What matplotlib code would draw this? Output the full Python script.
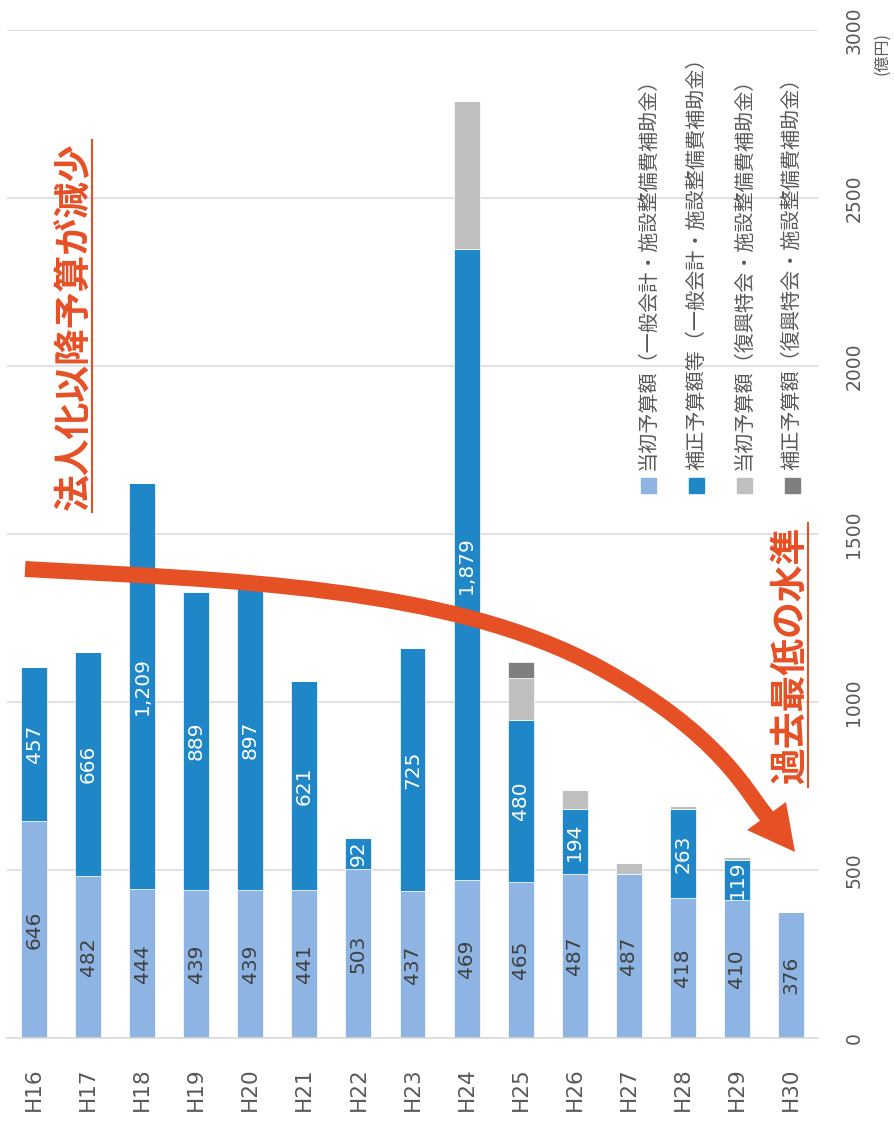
"""Stacked budget bars H16-H30, drawn sideways (all text rotated 90 degrees)."""
import matplotlib
matplotlib.use("Agg")
import matplotlib.pyplot as plt
from matplotlib.path import Path
from matplotlib.patches import PathPatch, Polygon

JP = ["Noto Sans CJK JP", "DejaVu Sans"]

years = ["H16", "H17", "H18", "H19", "H20", "H21", "H22", "H23",
         "H24", "H25", "H26", "H27", "H28", "H29", "H30"]
# 億円
initial_general = [646, 482, 444, 439, 439, 441, 503, 437, 469, 465, 487, 487, 418, 410, 376]
supp_general = [457, 666, 1209, 889, 897, 621, 92, 725, 1879, 480, 194, 0, 263, 119, 0]
initial_recovery = [0, 0, 0, 0, 0, 0, 0, 0, 440, 125, 58, 34, 8, 10, 0]
supp_recovery = [0, 0, 0, 0, 0, 0, 0, 0, 0, 48, 0, 0, 0, 0, 0]

series = [
    ("当初予算額（一般会計・施設整備費補助金）", initial_general, "#8EB4E3"),
    ("補正予算額等（一般会計・施設整備費補助金）", supp_general, "#1F86C8"),
    ("当初予算額（復興特会・施設整備費補助金）", initial_recovery, "#BFBFBF"),
    ("補正予算額（復興特会・施設整備費補助金）", supp_recovery, "#7F7F7F"),
]
ORANGE = "#E65025"
GRAY_TXT = "#595959"

fig = plt.figure(figsize=(8.94, 11.22), dpi=100)
ax = fig.add_axes([7 / 894, 1 - 1038 / 1122, 811 / 894, 1008 / 1122])

x = list(range(len(years)))
bottom = [0] * len(years)
for i, (name, vals, col) in enumerate(series):
    ax.bar(x, vals, 0.48, bottom=bottom, color=col, edgecolor="white",
           linewidth=0.5, zorder=2)
    if i < 2:
        tc = "#404040" if i == 0 else "white"
        for xi, b, v in zip(x, bottom, vals):
            if v > 0:
                ax.text(xi, b + v / 2, f"{v:,}", rotation=90, ha="center",
                        va="center", fontsize=14.5, color=tc, zorder=4)
    bottom = [b + v for b, v in zip(bottom, vals)]

ax.set_xlim(-0.5, 14.5)
ax.set_ylim(0, 3000)
ax.set_yticks(range(0, 3001, 500))
ax.yaxis.tick_right()
ax.grid(axis="y", color="#D9D9D9", linewidth=1.1, zorder=0)
for s in ["top", "left", "right"]:
    ax.spines[s].set_visible(False)
ax.spines["bottom"].set_color("#D9D9D9")
ax.spines["bottom"].set_linewidth(1.1)
ax.set_xticks(x)
ax.set_xticklabels(years, rotation=90, fontsize=15.5, color=GRAY_TXT)
ax.tick_params(axis="x", length=0, pad=21)
ax.tick_params(axis="y", length=0, pad=19, labelsize=13.5, labelcolor=GRAY_TXT)
for lab in ax.get_yticklabels():
    lab.set_rotation(90)
    lab.set_va("center")
ax.text(15.68, 2930, "(億円)", rotation=90, ha="center", va="center",
        fontsize=11.5, color=GRAY_TXT, family=JP, clip_on=False)

# legend, drawn by hand so it can be rotated
leg_x = [11.36, 12.25, 13.14, 14.02]
for lx, (name, _, col) in zip(leg_x, series):
    ax.plot(lx, 1646, marker="s", ms=10.8, color=col, zorder=5)
    ax.text(lx, 1690, name, rotation=90, rotation_mode="anchor", ha="left",
            va="center", fontsize=14.5, color=GRAY_TXT, family=JP)

# annotations
ax.text(0.75, 2119, "法人化以降予算が減少", rotation=90, ha="center", va="center",
        fontsize=26.5, fontweight="bold", color=ORANGE, family=JP, zorder=6)
ax.plot([1.073, 1.073], [1565, 2673], color=ORANGE, lw=1.5, zorder=6)
ax.text(13.98, 1140, "過去最低の水準", rotation=90, ha="center", va="center",
        fontsize=26.5, fontweight="bold", color=ORANGE, family=JP, zorder=6)
ax.plot([14.31, 14.31], [747, 1533], color=ORANGE, lw=1.5, zorder=6)

arrow_pts = [(-0.166, 1395.8), (3.532, 1363.1), (7.694, 1346.7), (10.468, 1101.2),
             (12.687, 904.8), (13.168, 735.1), (13.575, 654.8)]
codes = [Path.MOVETO] + [Path.CURVE4] * 6
ax.add_patch(PathPatch(Path(arrow_pts, codes), fill=False, edgecolor=ORANGE,
                       lw=11.5, capstyle="butt", zorder=7))
ax.add_patch(Polygon([(13.187, 619.0), (14.074, 553.6), (13.908, 702.4)],
                     closed=True, color=ORANGE, lw=0, zorder=7))

fig.savefig("out.png", dpi=100)
